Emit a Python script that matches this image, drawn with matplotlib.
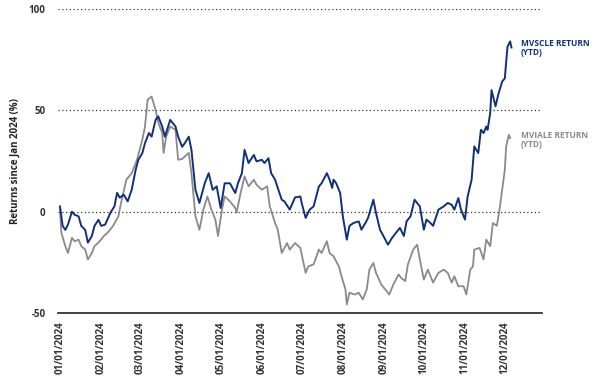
import matplotlib
matplotlib.use("Agg")
import matplotlib.pyplot as plt
import matplotlib.dates as mdates
import numpy as np
import pandas as pd

plt.rcParams["font.family"] = ["Open Sans", "DejaVu Sans"]

# day offsets from 01/01/2024 and returns (%)
mvscle_days = [0, 2, 4, 6, 9, 11, 14, 16, 19, 21, 24, 26, 29, 31, 34, 38, 41, 43, 45, 48,
               51, 54, 57, 59, 62, 64, 67, 69, 72, 74, 77, 79, 83, 87, 89, 92, 94, 97, 99, 102,
               105, 109, 112, 115, 118, 121, 124, 128, 132, 134, 137, 139, 142, 146, 148, 152, 154, 157, 159, 162,
               164, 167, 169, 173, 177, 181, 182, 185, 188, 191, 195, 197, 201, 203, 205, 206, 208, 211, 213, 216,
               218, 221, 225, 227, 230, 232, 236, 238, 241, 243, 247, 250, 252, 256, 259, 261, 264, 267, 271, 274,
               276, 279, 281, 285, 289, 292, 295, 297, 300, 302, 305, 307, 310, 312, 315, 317, 319, 321, 322, 324,
               325, 328, 330, 333, 335, 337, 339, 340]
mvscle_vals = [2.6, -7, -9, -6.4, 0, -1.5, -2.3, -7, -9, -15.3, -12, -7, -4, -7, -6.4, -0.5, 2.6, 9.3, 6.9, 8.4,
               5.1, 10.8, 20.7, 25.6, 28.9, 33.8, 38.8, 37, 45.3, 47, 42, 37, 45.3, 42, 37, 32, 33.8, 37, 30.5, 10.8,
               4.3, 14, 19, 10.8, 12.5, 1.8, 14, 14, 9.2, 14, 19, 30.5, 24, 28, 24.8, 25.6, 24, 26.4, 19, 15.8,
               11.7, 5.9, 5.1, 1, 7, 7.5, 4.3, -3.1, 1, 2.6, 12.5, 14, 19, 15.8, 11.7, 15.8, 14, 9.2, -2.3, -13.8,
               -7, -5.6, -4.8, -8.9, -5.6, -3.1, 5.9, -0.7, -8.9, -11.3, -16.3, -13, -11.3, -8, -12, -4.8, -2.3, 5.9, 2.6, -8.9,
               -3.9, -5.6, -7, 1, 2.6, 4.3, 3.4, 1, 6.7, 1, -3.9, 7.5, 15.8, 32.2, 28.9, 40.4, 38.8, 42, 40.4, 48.6,
               60, 52, 57.6, 64.2, 65.8, 81.4, 84, 81]

mviale_days = [0, 1, 4, 6, 9, 11, 14, 16, 19, 21, 24, 26, 29, 33, 36, 40, 44, 46, 50, 54,
               58, 62, 64, 66, 69, 72, 74, 77, 78, 80, 83, 87, 89, 92, 97, 99, 102, 105, 108, 111,
               114, 117, 119, 122, 124, 128, 132, 133, 136, 139, 142, 146, 148, 152, 156, 158, 162, 164, 167, 171,
               173, 177, 181, 185, 187, 191, 195, 197, 201, 203, 206, 210, 212, 215, 216, 218, 222, 225, 228, 231,
               233, 236, 238, 242, 245, 248, 251, 255, 257, 260, 262, 266, 269, 271, 274, 277, 281, 285, 289, 292,
               295, 297, 300, 304, 306, 309, 311, 312, 316, 319, 321, 324, 326, 329, 331, 333, 335, 336, 338, 339]
mviale_vals = [1, -10.3, -17, -20.4, -12.9, -14.6, -13.8, -17, -18.7, -23.6, -20.4, -17, -15.3, -12, -10.3, -7, -2.3, 4.4, 15.8, 19,
               25.6, 35.5, 42, 55.2, 56.8, 50.2, 44, 38.8, 29, 37, 42, 40.4, 25.6, 26, 29, 19, -2.3, -8.9, 1, 7.5,
               1, -3.9, -12, 1, 7.5, 5.1, 1.8, -0.5, 9.2, 17.4, 12.5, 15.8, 13.3, 10.8, 12.5, 2.6, -5.6, -8.9, -20.4, -15.5,
               -18.7, -15.5, -17.9, -30.2, -27, -26, -18.7, -20.4, -14.6, -20.4, -22, -27, -31.9, -38.4, -45.8, -40, -40.9, -40, -43.3, -38.4,
               -28.6, -25.3, -30.2, -36, -38.4, -40.9, -36, -31, -32.7, -34.3, -26, -18.7, -16.3, -23.6, -33.5, -28.6, -35, -30.2, -28.6, -30.2,
               -35, -31.9, -36.8, -36.8, -40.9, -28.6, -27, -18.7, -17.9, -23.6, -13.8, -17, -5.6, -7, 1, 10.8, 20.7, 32.2, 37.9, 36.3]

tick_months = ["2024-%02d-01" % m for m in range(1, 13)]
y_ticks = [-50, 0, 50, 100]

navy = "#12307a"
grey = "#8a8a8a"
txt = "#333333"

start = pd.Timestamp("2024-01-01")
d_scle = start + pd.to_timedelta(mvscle_days, unit="D")
d_iale = start + pd.to_timedelta(mviale_days, unit="D")

fig = plt.figure(figsize=(6, 3.76), dpi=100)
ax = fig.add_axes([58 / 600, 63 / 376, 484 / 600, 304 / 376])

# dotted reference lines
for v in [0, 50, 100]:
    ax.axhline(v, color="#333333", lw=0.9, ls=(0, (1, 2)), zorder=1)

ax.plot(d_iale, mviale_vals, color=grey, lw=1.3, zorder=2)
ax.plot(d_scle, mvscle_vals, color=navy, lw=1.4, zorder=3)

ax.set_ylim(-50, 100)
ax.set_xlim(pd.Timestamp("2023-12-30 12:00"), pd.Timestamp("2024-12-29"))

ax.set_yticks(y_ticks)
ax.set_yticklabels([str(v) for v in y_ticks], fontsize=7, fontweight="bold", color=txt)
ax.set_xticks(pd.to_datetime(tick_months))
ax.xaxis.set_major_formatter(mdates.DateFormatter("%m/%d/%Y"))
plt.setp(ax.get_xticklabels(), rotation=90, fontsize=7, fontweight="bold", color=txt)
ax.tick_params(axis="both", length=0, pad=9)
ax.tick_params(axis="x", pad=6)

for s in ["top", "right", "left"]:
    ax.spines[s].set_visible(False)
ax.spines["bottom"].set_color("#222222")
ax.spines["bottom"].set_linewidth(1.2)

ax.set_ylabel("Returns since Jan 2024 (%)", fontsize=7, fontweight="bold", color="#222222", labelpad=6)

ax.text(pd.Timestamp("2024-12-13"), 85, "MVSCLE RETURN\n(YTD)", color=navy, fontsize=6,
        fontweight="bold", va="top", ha="left", linespacing=1.0)
ax.text(pd.Timestamp("2024-12-13"), 40, "MVIALE RETURN\n(YTD)", color=grey, fontsize=6,
        fontweight="bold", va="top", ha="left", linespacing=1.0)

fig.savefig("out.png", dpi=100)
